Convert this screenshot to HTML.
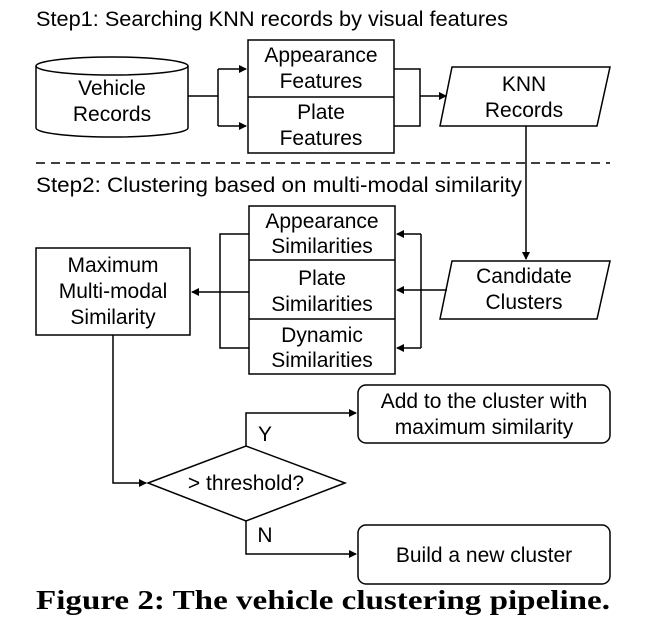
<!DOCTYPE html>
<html><head><style>html,body{margin:0;padding:0;background:#fff}svg{display:block}</style></head><body>
<svg width="651" height="631" viewBox="0 0 651 631" xmlns="http://www.w3.org/2000/svg" font-family="Liberation Sans, sans-serif" font-size="21">
<defs><marker id="a" markerWidth="8" markerHeight="8" refX="7" refY="4" orient="auto" markerUnits="userSpaceOnUse"><path d="M0,0 L8,4 L0,8 z" fill="#000"/></marker></defs>
<g fill="none" stroke="#000" stroke-width="1.5">
<path d="M36,66 L36,128 A76,9 0 0 0 188,128 L188,66"/>
<ellipse cx="112" cy="66" rx="76" ry="9"/>
<rect x="248" y="40" width="146" height="113"/><line x1="248" y1="97" x2="394" y2="97"/>
<path d="M452,67 L610,67 L597,126 L440,126 Z"/>
<path d="M188,96 L218,96"/><path d="M218,69 L218,126"/>
<path d="M218,69 L246,69" marker-end="url(#a)"/><path d="M218,126 L246,126" marker-end="url(#a)"/>
<path d="M394,69 L420,69 L420,126 L394,126"/><path d="M420,96 L446,96" marker-end="url(#a)"/>
<path d="M526,126 L526,259" marker-end="url(#a)"/>
<line x1="36" y1="163" x2="610" y2="163" stroke-dasharray="9,6"/>
<rect x="249" y="206" width="146" height="168"/><line x1="249" y1="260" x2="395" y2="260"/><line x1="249" y1="319" x2="395" y2="319"/>
<path d="M249,234 L220,234 L220,348 L249,348"/>
<path d="M249,292 L192,292" marker-end="url(#a)"/>
<rect x="36" y="248" width="154" height="87"/>
<path d="M452,261 L610,261 L597,319 L440,319 Z"/>
<path d="M421,234 L421,348"/>
<path d="M421,234 L397,234" marker-end="url(#a)"/><path d="M421,348 L397,348" marker-end="url(#a)"/>
<path d="M447,290 L397,290" marker-end="url(#a)"/>
<path d="M113,335 L113,483 L146,483" marker-end="url(#a)"/>
<path d="M148,483 L246,446 L345,483 L246,521 Z"/>
<path d="M246,446 L246,413 L356,413" marker-end="url(#a)"/>
<path d="M246,521 L246,554 L356,554" marker-end="url(#a)"/>
<rect x="358" y="385" width="252" height="58" rx="8"/>
<rect x="358" y="525" width="252" height="59" rx="8"/>
</g>
<g fill="#000" text-anchor="middle">
<text x="36" y="26" text-anchor="start" textLength="472" lengthAdjust="spacingAndGlyphs">Step1: Searching KNN records by visual features</text>
<text x="36" y="192" text-anchor="start" textLength="486" lengthAdjust="spacingAndGlyphs">Step2: Clustering based on multi-modal similarity</text>
<text x="112" y="95">Vehicle</text><text x="112" y="121">Records</text>
<text x="321" y="62">Appearance</text><text x="321" y="88">Features</text>
<text x="321" y="119">Plate</text><text x="321" y="145">Features</text>
<text x="524" y="91">KNN</text><text x="524" y="117">Records</text>
<text x="322" y="228">Appearance</text><text x="322" y="253">Similarities</text>
<text x="322" y="285">Plate</text><text x="322" y="311">Similarities</text>
<text x="322" y="342">Dynamic</text><text x="322" y="367">Similarities</text>
<text x="113" y="272">Maximum</text><text x="113" y="298">Multi-modal</text><text x="113" y="324">Similarity</text>
<text x="524" y="283">Candidate</text><text x="524" y="309">Clusters</text>
<text x="246" y="490">&gt; threshold?</text>
<text x="265" y="441">Y</text><text x="265" y="542">N</text>
<text x="484" y="408">Add to the cluster with</text><text x="484" y="434">maximum similarity</text>
<text x="484" y="562">Build a new cluster</text>
<text x="36" y="609" text-anchor="start" font-family="Liberation Serif, serif" font-weight="bold" font-size="27" textLength="574" lengthAdjust="spacingAndGlyphs">Figure 2: The vehicle clustering pipeline.</text>
</g>
</svg>
</body></html>
